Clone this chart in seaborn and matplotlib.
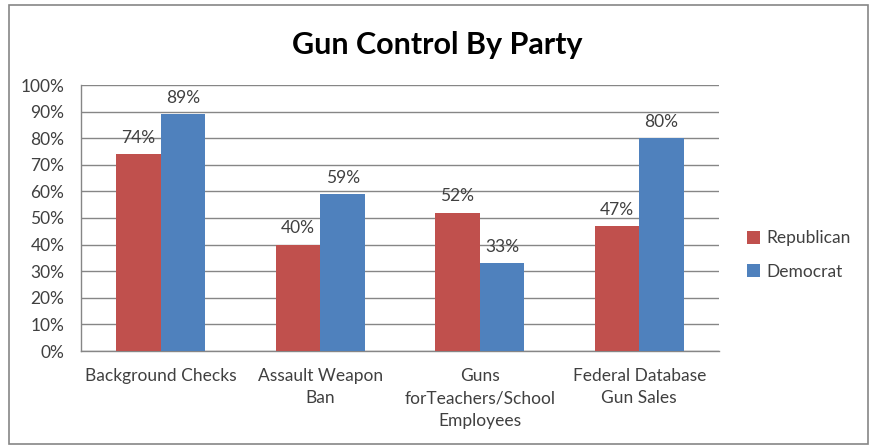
import matplotlib
matplotlib.use("Agg")
import matplotlib.pyplot as plt
import seaborn as sns
import pandas as pd
from matplotlib.patches import Rectangle

categories = ["Background Checks", "Assault Weapon\nBan", "Guns\nforTeachers/School\nEmployees", "Federal Database\nGun Sales"]
republican = [74, 40, 52, 47]
democrat = [89, 59, 33, 80]
series = ["Republican", "Democrat"]
yticks = [0, 10, 20, 30, 40, 50, 60, 70, 80, 90, 100]

df = pd.DataFrame({
    "category": categories * 2,
    "party": [series[0]] * 4 + [series[1]] * 4,
    "value": republican + democrat,
})

sns.set_theme(style="white")
plt.rcParams["font.family"] = ["Lato", "DejaVu Sans"]

FS = 12.5
TXT = "#404040"

fig = plt.figure(figsize=(8.72, 4.45), dpi=100)
ax = fig.add_axes([81 / 872, 1 - 351 / 445, (719 - 81) / 872, (351 - 85) / 445])

palette = {"Republican": "#C0504D", "Democrat": "#4F81BD"}
sns.barplot(data=df, x="category", y="value", hue="party", palette=palette,
            ax=ax, width=0.56, saturation=1, legend=True, zorder=3, linewidth=0)

for cont in ax.containers:
    ax.bar_label(cont, labels=[f"{v:.0f}%" for v in cont.datavalues],
                 padding=6, fontsize=FS, color=TXT)

ax.set_ylim(0, 100)
ax.set_yticks(yticks)
ax.set_yticklabels([f"{t}%" for t in yticks], fontsize=FS, color=TXT)
ax.set_xticks(range(len(categories)))
ax.set_xticklabels(categories, fontsize=FS, color=TXT, linespacing=1.5)
ax.tick_params(axis="x", length=0, pad=12)
ax.tick_params(axis="y", length=0, pad=12)
ax.set_xlabel("")
ax.set_ylabel("")
ax.grid(axis="y", color="#868686", linewidth=1, zorder=0)
ax.set_axisbelow(True)
for s in ["top", "right"]:
    ax.spines[s].set_visible(False)
for s in ["left", "bottom"]:
    ax.spines[s].set_color("#868686")
    ax.spines[s].set_linewidth(1)

leg = ax.legend(loc="center left", bbox_to_anchor=(740 / 872, 1 - 255 / 445),
                bbox_transform=fig.transFigure, frameon=False, fontsize=FS,
                handlelength=0.75, handleheight=0.75, handletextpad=0.35,
                labelspacing=1.0, borderaxespad=0)
for t in leg.get_texts():
    t.set_color(TXT)

fig.text(437 / 872, 1 - 45 / 445, "Gun Control By Party", ha="center", va="center",
         fontsize=22, fontweight="bold", color="black")

fig.patches.append(Rectangle((8.5 / 872, 1 - 444 / 445), (868 - 8.5) / 872, (444 - 5) / 445,
                             transform=fig.transFigure, fill=False,
                             edgecolor="#868686", linewidth=1.2))

fig.savefig("out.png", dpi=100)
